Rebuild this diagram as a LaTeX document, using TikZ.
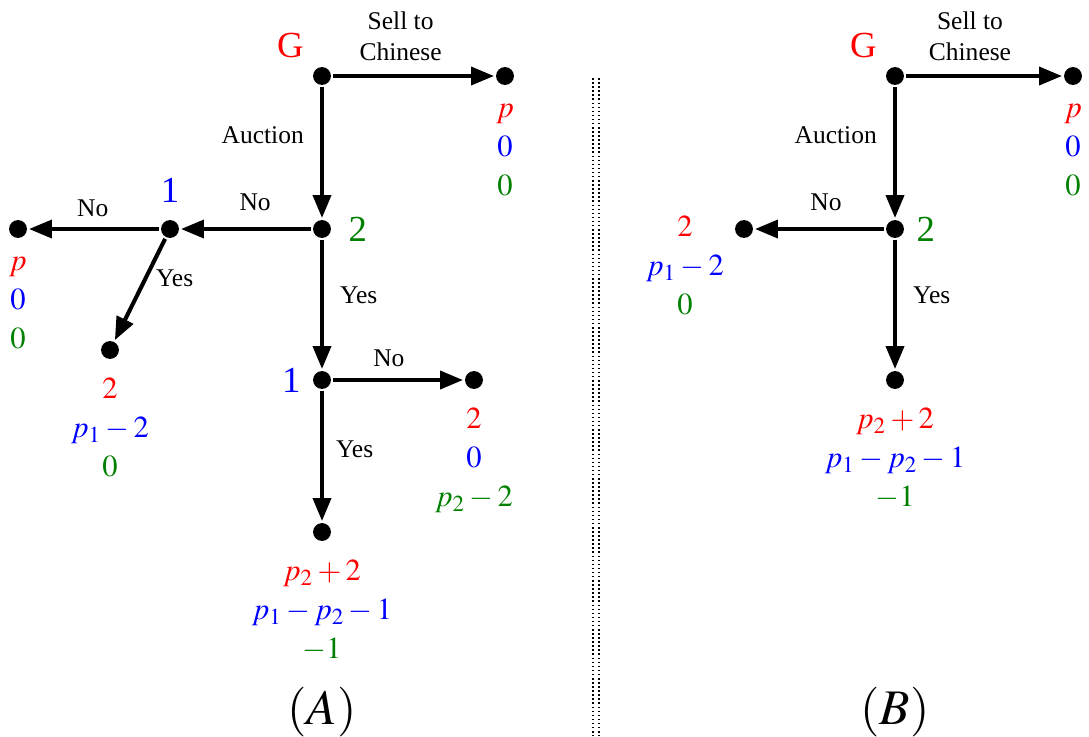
\documentclass[tikz,border=0pt]{standalone}
\usepackage{mathptmx}
\usepackage[no-math]{fontspec}
\setmainfont{Liberation Serif}
\usetikzlibrary{arrows.meta,calc,positioning}
\definecolor{darkgreen}{rgb}{0,0.5,0}
\newcommand{\payoff}[3]{\textcolor{red}{$#1$}\\[1.3pt]\textcolor{blue}{$#2$}\\[1.3pt]\textcolor{darkgreen}{$#3$}}

\begin{document}
\begin{tikzpicture}[x=0.01378cm,y=-0.01378cm,>={Triangle[length=9pt,width=7pt]},
    line width=1.6pt,font=\normalsize]
  \tikzset{
    dot/.style={circle,fill=black,inner sep=0pt,minimum size=7pt},
    pay/.style={font=\large,align=center,anchor=north,inner sep=0pt},
    who/.style={font=\Large},
    caption/.style={font=\fontsize{19.5pt}{23pt}\selectfont},
  }
  \useasboundingbox (0,0) rectangle (1089,736);
  % ---- tree (A)
  \node[dot,label={[who,red]above left:G}] (aG) at (322,76) {};
  \node[dot] (aS) at (505,76) {};
  \node[dot,label={[who,darkgreen,label distance=2pt]right:2}] (a2) at (322,229) {};
  \node[dot,label={[who,blue,label distance=2pt]above:1}] (a1) at (170,229) {};
  \node[dot] (aN) at (18,229) {};
  \node[dot] (aY) at (110,350) {};
  \node[dot,label={[who,blue]left:1}] (a1b) at (322,380) {};
  \node[dot] (aNb) at (474,380) {};
  \node[dot] (aYb) at (322,532) {};
  % moves
  \draw[->] (aG) -- (aS) node[pos=0.42,above=2pt,align=center]{Sell to\\Chinese};
  \draw[->] (aG) -- (a2) node[pos=0.37,left=3pt]{Auction};
  \draw[->] (a2) -- (a1) node[pos=0.43,above=3pt]{No};
  \draw[->] (a1) -- (aN) node[pos=0.51,above=0.5pt]{No};
  \draw[->] (a1) -- (aY) node[pos=0.39,right]{Yes};
  \draw[->] (a2) -- (a1b) node[pos=0.43,right=3pt]{Yes};
  \draw[->] (a1b) -- (aNb) node[pos=0.43,above=1pt]{No};
  \draw[->] (a1b) -- (aYb) node[pos=0.45,right=1.4pt]{Yes};
  % payoffs
  \node[pay,below=6pt of aS] (paS) {\payoff{p}{0}{0}};
  \node[pay,below=6pt of aN] (paN) {\payoff{p}{0}{0}};
  \node[pay,below=6pt of aY] (paY) {\payoff{2}{p_1-2}{0}};
  \node[pay,below=6pt of aNb] (paNb) {\payoff{2}{0}{p_2-2}};
  \node[pay,below=6pt of aYb] (paYb) {\payoff{p_2+2}{p_1-p_2-1}{-1}};
  \node[caption] (capA) at (322,712) {$(A)$};
  % ---- divider
  \coordinate (d1t) at (593,78); \coordinate (d1b) at (593,736);
  \coordinate (d2t) at (599,78); \coordinate (d2b) at (599,736);
  \draw[line width=0.6pt,densely dotted] (d1t) -- (d1b) (d2t) -- (d2b);
  % ---- tree (B)
  \node[dot,label={[who,red]above left:G}] (bG) at (895,76) {};
  \node[dot] (bS) at (1073,76) {};
  \node[dot,label={[who,darkgreen]right:2}] (b2) at (895,229) {};
  \node[dot] (bN) at (744,229) {};
  \node[dot] (bY) at (895,380) {};
  \draw[->] (bG) -- (bS) node[pos=0.41,above=2pt,align=center]{Sell to\\Chinese};
  \draw[->] (bG) -- (b2) node[pos=0.37,left=3pt]{Auction};
  \draw[->] (b2) -- (bN) node[pos=0.45,above=3pt]{No};
  \draw[->] (b2) -- (bY) node[pos=0.43,right=3pt]{Yes};
  \node[pay,below=6pt of bS] (pbS) {\payoff{p}{0}{0}};
  \node[pay] (pbN) at ($(bN)+(-59,-15)$) {\payoff{2}{p_1-2}{0}};
  \node[pay,below=6pt of bY] (pbY) {\payoff{p_2+2}{p_1-p_2-1}{-1}};
  \node[caption] (capB) at (895,712) {$(B)$};
\end{tikzpicture}
\end{document}
